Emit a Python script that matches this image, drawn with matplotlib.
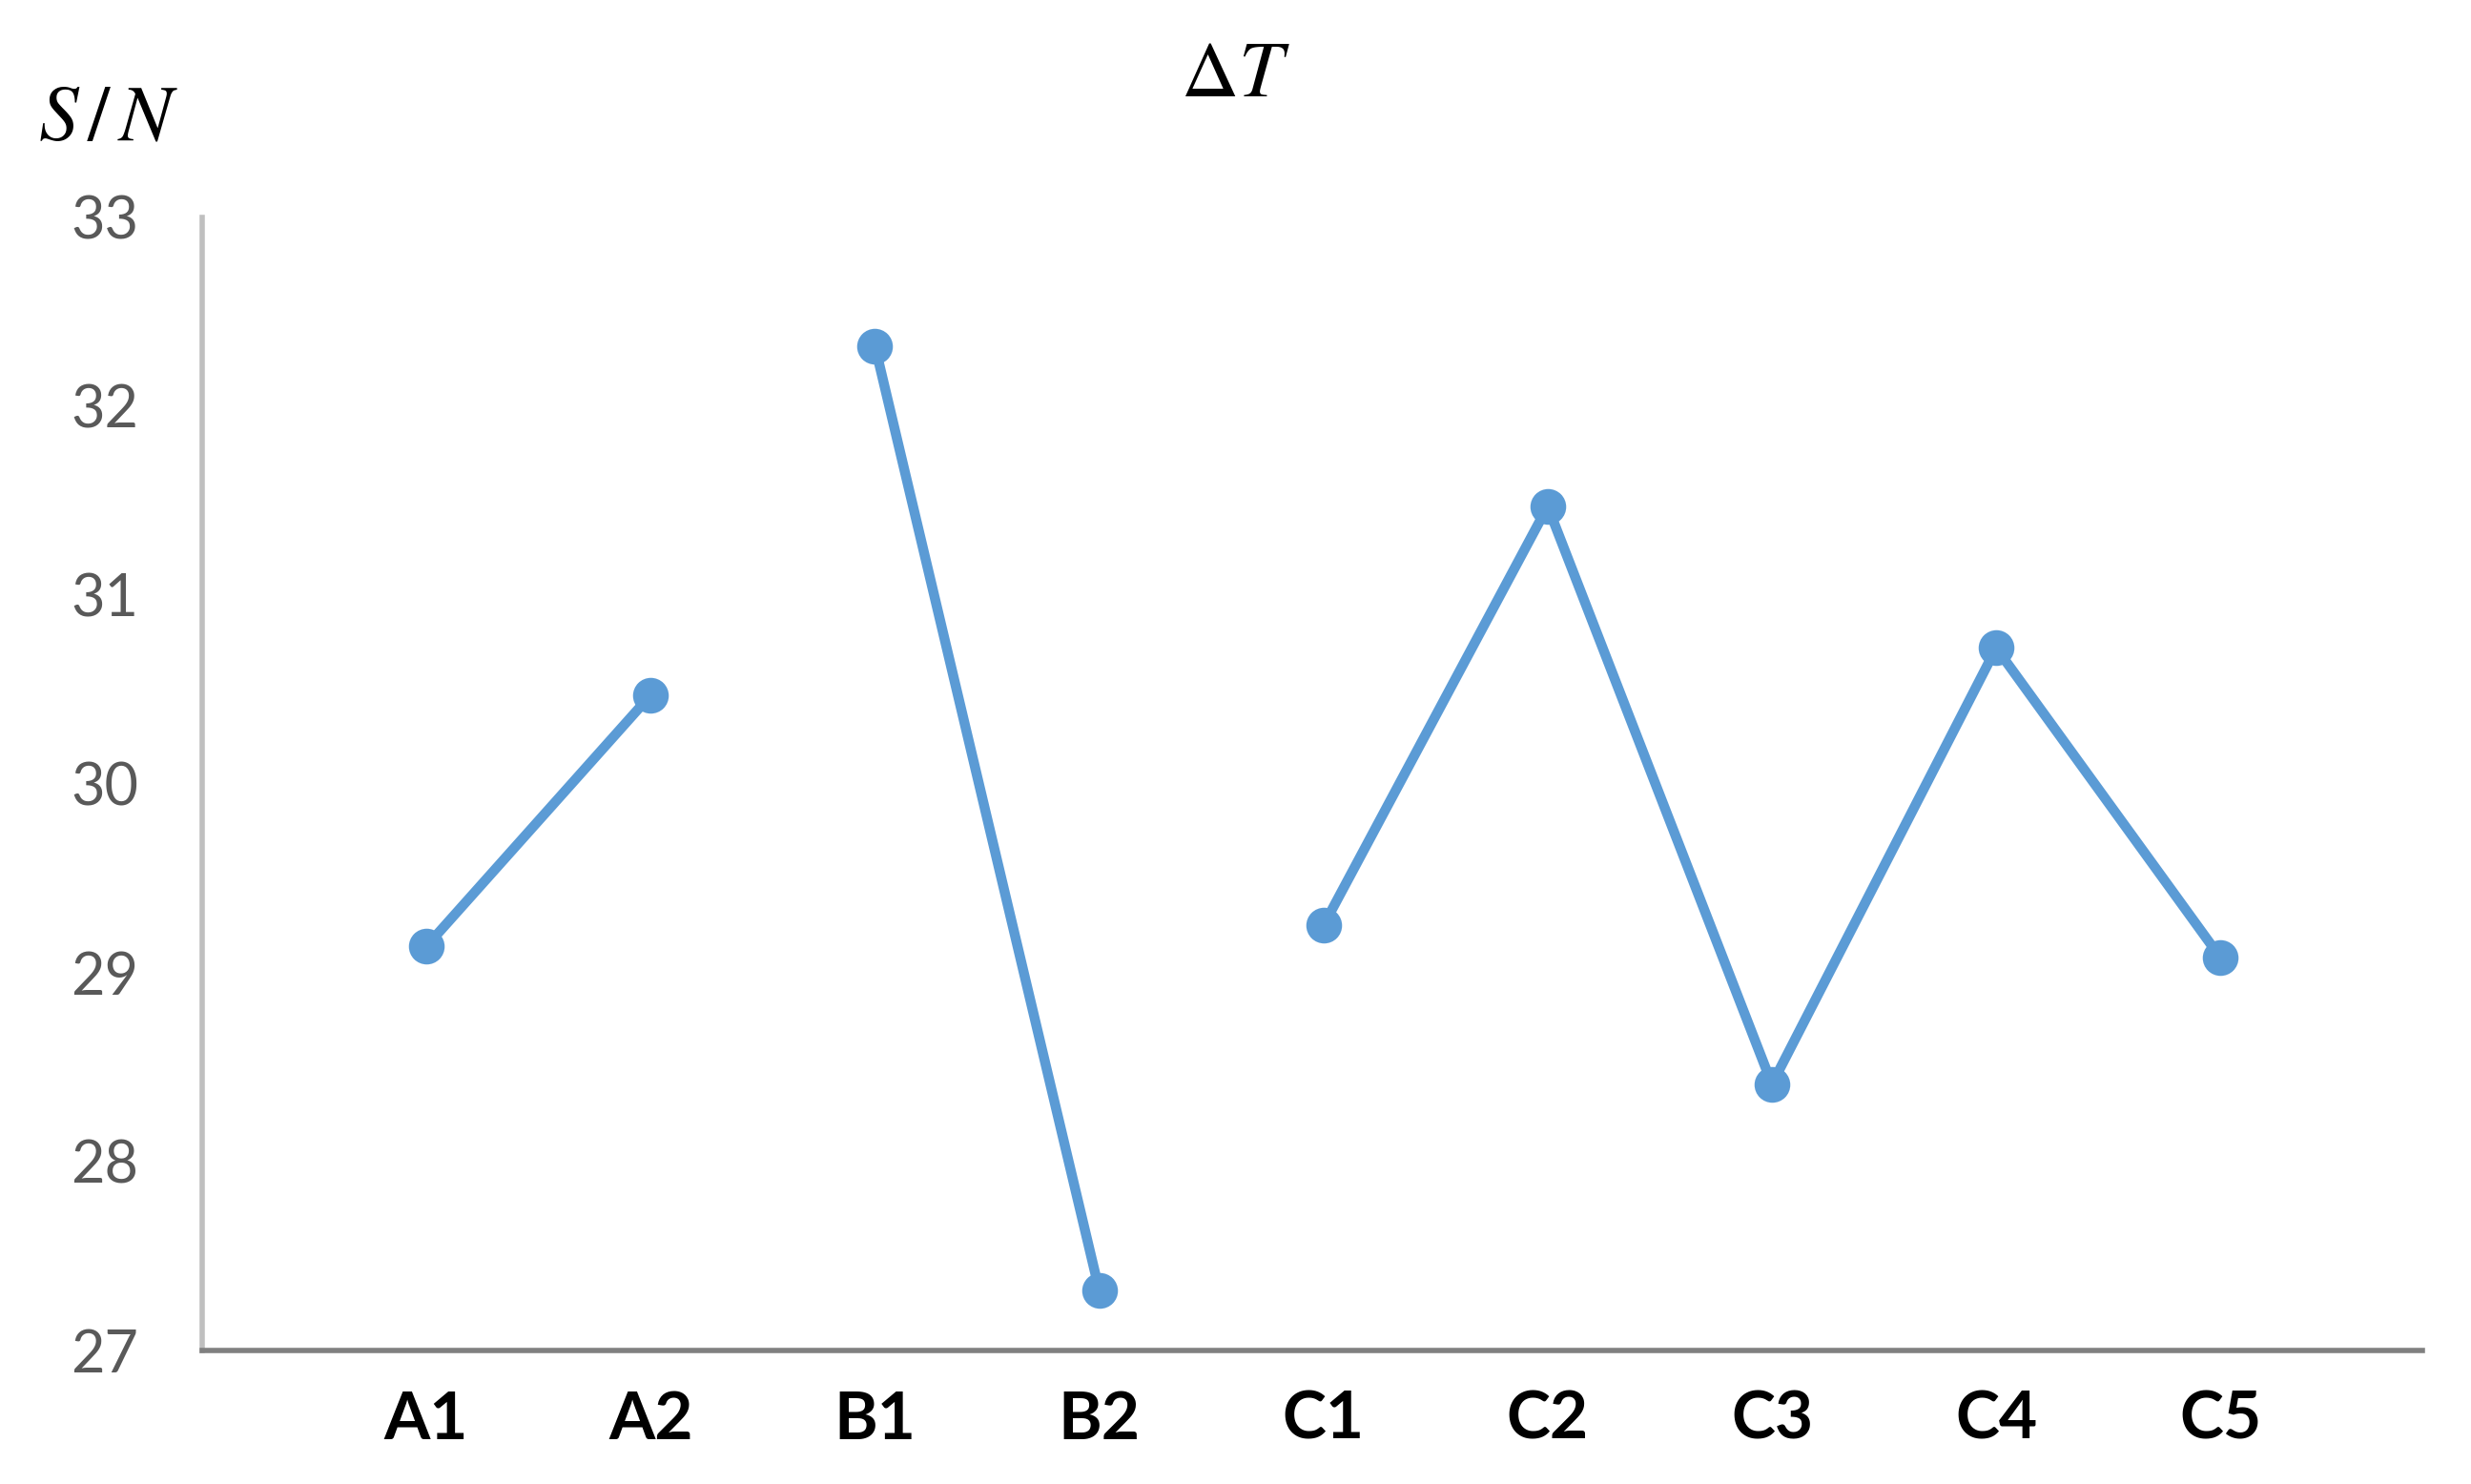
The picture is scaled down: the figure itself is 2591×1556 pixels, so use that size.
import numpy as np
import matplotlib
matplotlib.use('Agg')
import matplotlib.pyplot as plt

# Factor levels and S/N ratios
labels = ['A1', 'A2', 'B1', 'B2', 'C1', 'C2', 'C3', 'C4', 'C5']
sn_a = [29.14, 30.47]
sn_b = [32.32, 27.32]
sn_c = [29.25, 31.47, 28.41, 30.72, 29.08]
yticks = [27, 28, 29, 30, 31, 32, 33]

plt.rcParams['mathtext.fontset'] = 'stix'
blue = '#5B9BD5'

fig = plt.figure(figsize=(25.91, 15.56), dpi=100)
ax = fig.add_axes([0.0818, 0.090, 0.8985, 0.7635])

# each factor is its own unconnected line
pos = 1
for group in (sn_a, sn_b, sn_c):
	x = np.arange(pos, pos + len(group))
	ax.plot(x, group, color=blue, linewidth=7.5, marker='o', markersize=27,
			markeredgewidth=0, solid_capstyle='round')
	pos += len(group)

ax.set_xlim(0.0, 9.9)
ax.set_ylim(27, 33)
ax.set_xticks(np.arange(1, len(labels) + 1))
ax.set_xticklabels(labels, fontname='Lato', fontweight='bold', fontsize=50, color='black')
ax.set_yticks(yticks)
ax.set_yticklabels([str(t) for t in yticks], fontname='Lato', fontsize=44, color='#595959')
ax.tick_params(axis='both', length=0)
ax.tick_params(axis='x', pad=30)
ax.tick_params(axis='y', pad=48)

for side in ('top', 'right'):
	ax.spines[side].set_visible(False)
ax.spines['left'].set_color('#bfbfbf')
ax.spines['left'].set_linewidth(4)
ax.spines['bottom'].set_color('#808080')
ax.spines['bottom'].set_linewidth(4)

fig.text(0.5, 0.95, r'$\mathit{\Delta} T$', fontsize=60, ha='center', va='center')
fig.text(0.044, 0.921, r'$S\,/\,N$', fontsize=60, ha='center', va='center')

fig.savefig('out.png', dpi=100)
